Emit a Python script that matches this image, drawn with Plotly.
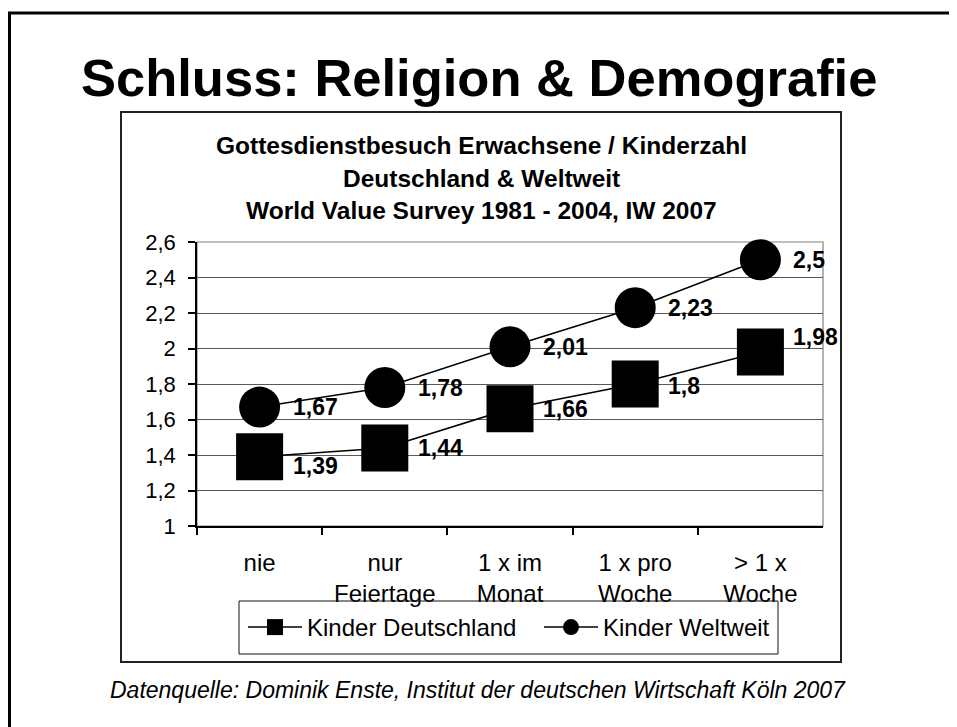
import plotly.graph_objects as go

# ---------------- data ----------------
categories = ["nie", "nur<br>Feiertage", "1 x im<br>Monat", "1 x pro<br>Woche", "> 1 x<br>Woche"]
kinder_deutschland = [1.39, 1.44, 1.66, 1.8, 1.98]
kinder_weltweit = [1.67, 1.78, 2.01, 2.23, 2.5]
series_names = ["Kinder Deutschland", "Kinder Weltweit"]
y_tickvals = [1, 1.2, 1.4, 1.6, 1.8, 2, 2.2, 2.4, 2.6]
y_ticktext = ["1", "1,2", "1,4", "1,6", "1,8", "2", "2,2", "2,4", "2,6"]

slide_title = "Schluss: Religion & Demografie"
chart_title_lines = [
    "Gottesdienstbesuch Erwachsene / Kinderzahl",
    "Deutschland & Weltweit",
    "World Value Survey 1981 - 2004, IW 2007",
]
footer = "Datenquelle: Dominik Enste, Institut der deutschen Wirtschaft Köln 2007"

# label vertical nudges (style only, pixels)
label_yshift_de = [-9, 0, 0, -2, 15]
label_yshift_ww = [0, 0, 0, 0, 0]


def de(v):
    return str(v).replace(".", ",")


# ---------------- geometry helpers ----------------
# the page body adds an 8px offset, so the figure is drawn 8px smaller
OFF = 8
W, H = 957 - OFF, 727 - OFF


def px(x):
    return (x - OFF) / W


def py(y):
    return 1 - (y - OFF) / H


FONT = "Liberation Sans, Arial, Helvetica, sans-serif"

fig = go.Figure()

fig.add_trace(go.Scatter(
    x=categories, y=kinder_deutschland, name=series_names[0],
    mode="lines+markers",
    line=dict(color="black", width=1.5),
    marker=dict(symbol="square", size=47, color="black"),
    cliponaxis=False,
))
fig.add_trace(go.Scatter(
    x=categories, y=kinder_weltweit, name=series_names[1],
    mode="lines+markers",
    line=dict(color="black", width=1.5),
    marker=dict(symbol="circle", size=41, color="black"),
    cliponaxis=False,
))

x_dom = [px(197), px(823)]
y_dom = [py(526), py(242)]

shapes = [
    # slide border (top and left)
    dict(type="line", xref="paper", yref="paper", x0=px(8), x1=1, y0=py(13), y1=py(13),
         line=dict(color="black", width=3)),
    dict(type="line", xref="paper", yref="paper", x0=px(9.5), x1=px(9.5), y0=py(12), y1=0,
         line=dict(color="black", width=3)),
    # chart box
    dict(type="rect", xref="paper", yref="paper", x0=px(121), x1=px(841), y0=py(662), y1=py(112),
         line=dict(color="#222222", width=2), layer="below"),
    # plot area border
    dict(type="rect", xref="paper", yref="paper", x0=x_dom[0], x1=x_dom[1], y0=y_dom[0], y1=y_dom[1],
         line=dict(color="#808080", width=1.2), layer="below"),
    # legend box
    dict(type="rect", xref="paper", yref="paper", x0=px(239), x1=px(778), y0=py(654), y1=py(601),
         line=dict(color="#111111", width=1)),
]

annotations = [
    dict(text=slide_title, x=px(479), y=py(77), xref="paper", yref="paper",
         xanchor="center", yanchor="middle", showarrow=False,
         font=dict(family=FONT, size=52.5, color="black", weight="bold")),
    dict(text=footer, x=px(478), y=py(689.5), xref="paper", yref="paper",
         xanchor="center", yanchor="middle", showarrow=False,
         font=dict(family=FONT, size=23, color="black", style="italic")),
]
for line_text, yc in zip(chart_title_lines, [145, 178, 211]):
    annotations.append(dict(text=line_text, x=px(481), y=py(yc), xref="paper", yref="paper",
                            xanchor="center", yanchor="middle", showarrow=False,
                            font=dict(family=FONT, size=24.5, color="black", weight="bold")))

for vals, shifts in ((kinder_deutschland, label_yshift_de), (kinder_weltweit, label_yshift_ww)):
    for cat, v, ys in zip(categories, vals, shifts):
        annotations.append(dict(text=de(v), x=cat, y=v, xref="x", yref="y",
                                xanchor="left", yanchor="middle", xshift=31, yshift=ys,
                                showarrow=False,
                                font=dict(family=FONT, size=23, color="black", weight="bold")))

fig.update_layout(
    width=W, height=H,
    margin=dict(l=0, r=0, t=0, b=0, pad=0, autoexpand=False),
    paper_bgcolor="white", plot_bgcolor="white",
    font=dict(family=FONT, color="black"),
    showlegend=True,
    legend=dict(orientation="h", x=px(243), y=py(627.5), xanchor="left", yanchor="middle",
                font=dict(family=FONT, size=24, color="black"),
                bgcolor="rgba(0,0,0,0)", borderwidth=0, entrywidth=227,
                itemwidth=54, itemsizing="trace"),
    shapes=shapes,
    annotations=annotations,
    xaxis=dict(domain=x_dom, type="category", range=[-0.5, len(categories) - 0.5],
               autorange=False, showgrid=False, zeroline=False,
               showline=True, linecolor="black", linewidth=1.5,
               ticks="outside", ticklen=7, tickcolor="black", tickwidth=1.5,
               tickson="boundaries", ticklabelstandoff=14,
               tickfont=dict(family=FONT, size=24, color="black"),
               automargin=False, fixedrange=True),
    yaxis=dict(domain=y_dom, range=[1, 2.6], autorange=False, showgrid=True,
               gridcolor="#595959", gridwidth=1,
               zeroline=False, showline=True, linecolor="black", linewidth=1.5,
               ticks="outside", ticklen=7, tickcolor="black", tickwidth=1.5,
               tickvals=y_tickvals, ticktext=y_ticktext, ticklabelstandoff=8,
               tickfont=dict(family=FONT, size=22, color="black"),
               automargin=False, fixedrange=True),
)

fig.write_html("out.html")
